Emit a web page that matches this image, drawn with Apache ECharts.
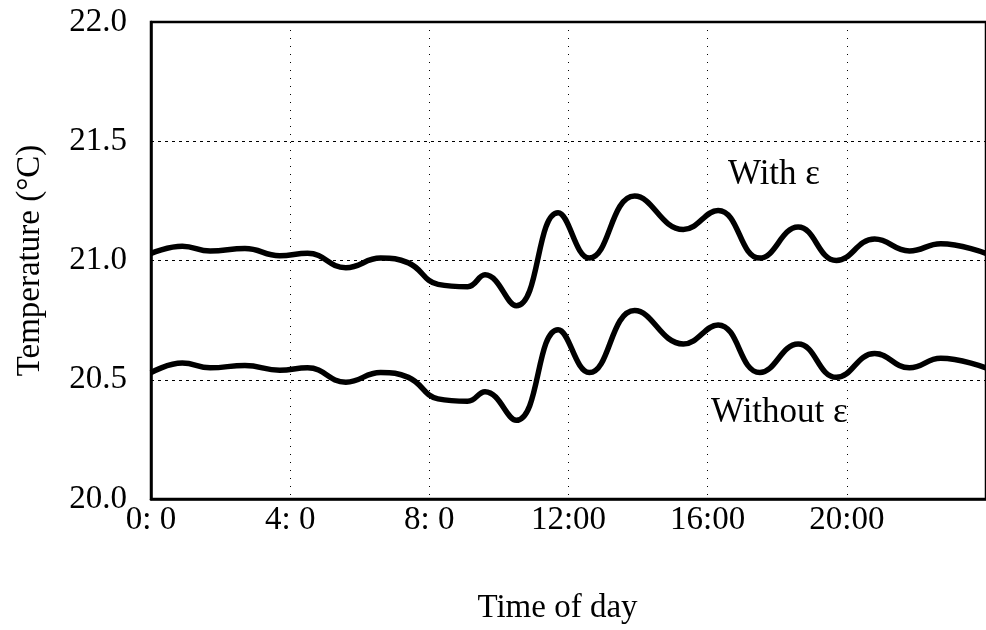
<!DOCTYPE html>
<html>
<head>
<meta charset="utf-8">
<script src="https://cdn.jsdelivr.net/npm/echarts@6/dist/echarts.min.js"></script>
<style>
html,body{margin:0;padding:0;background:#fff;}
#chart{width:986px;height:630px;}
</style>
</head>
<body>
<div id="chart"></div>
<script>
// Time of day (hours) at which readings were taken off the curves
const hours = [0, 0.9, 1.7, 2.7, 3.7, 4.5, 5.6, 6.6, 7.4, 8.25, 9.1, 9.6, 10.5, 11.7, 12.6, 13.9, 15.3, 16.3, 17.5, 18.6, 19.7, 20.8, 21.8, 22.7, 24];
// Temperature (°C) with ε
const withEps = [21.03, 21.06, 21.04, 21.05, 21.02, 21.03, 20.97, 21.01, 20.99, 20.90, 20.89, 20.94, 20.81, 21.20, 21.01, 21.27, 21.13, 21.21, 21.01, 21.14, 21.00, 21.09, 21.04, 21.07, 21.03];
// Temperature (°C) without ε
const withoutEps = [20.53, 20.57, 20.55, 20.56, 20.54, 20.55, 20.49, 20.53, 20.51, 20.42, 20.41, 20.45, 20.33, 20.71, 20.53, 20.79, 20.65, 20.73, 20.53, 20.65, 20.51, 20.61, 20.55, 20.59, 20.55];
// Tick labels
const xTickLabels = {0: '0: 0', 4: '4: 0', 8: '8: 0', 12: '12:00', 16: '16:00', 20: '20:00'};
const seriesNames = ['With ε', 'Without ε'];

const FONT = "'Liberation Serif', 'Times New Roman', serif";
const chart = echarts.init(document.getElementById('chart'), null, {renderer: 'canvas'});

const pairs = (vals) => hours.map((h, i) => [h, vals[i]]);

chart.setOption({
  animation: false,
  backgroundColor: '#fff',
  grid: {left: 151, top: 22, bottom: 131, right: -7, show: true, borderColor: '#000', borderWidth: 2.5, backgroundColor: 'transparent'},
  xAxis: {
    type: 'value', min: 0, max: 24, interval: 4,
    name: 'Time of day', nameLocation: 'middle', nameGap: 93,
    nameTextStyle: {fontFamily: FONT, fontSize: 33, color: '#000', padding: [0, 22, 0, 0]},
    axisLine: {show: true, lineStyle: {color: '#000', width: 2.5}},
    axisTick: {show: false},
    axisLabel: {fontFamily: FONT, fontSize: 33, color: '#000', margin: 5, showMaxLabel: false,
      formatter: v => xTickLabels[v] !== undefined ? xTickLabels[v] : ''},
    splitLine: {show: true, lineStyle: {color: '#000', width: 1, type: [1, 7]}}
  },
  yAxis: {
    type: 'value', min: 20, max: 22, interval: 0.5,
    name: 'Temperature (°C)', nameLocation: 'middle', nameGap: 104,
    nameTextStyle: {fontFamily: FONT, fontSize: 33, color: '#000'},
    axisLine: {show: true, lineStyle: {color: '#000', width: 2.5}},
    axisTick: {show: false},
    axisLabel: {fontFamily: FONT, fontSize: 33, color: '#000', margin: 24, formatter: v => v.toFixed(1)},
    splitLine: {show: true, lineStyle: {color: '#000', width: 1, type: [3, 4]}}
  },
  series: [
    {name: seriesNames[0], type: 'line', data: pairs(withEps), smooth: 0.45, showSymbol: false,
     lineStyle: {color: '#000', width: 5.5}, z: 5},
    {name: seriesNames[1], type: 'line', data: pairs(withoutEps), smooth: 0.45, showSymbol: false,
     lineStyle: {color: '#000', width: 5.5}, z: 5}
  ],
  graphic: [
    {type: 'text', left: 728, top: 157, style: {text: seriesNames[0], font: '35px ' + FONT, fill: '#000'}},
    {type: 'text', left: 711, top: 395, style: {text: seriesNames[1], font: '35px ' + FONT, fill: '#000'}}
  ]
});
</script>
</body>
</html>
